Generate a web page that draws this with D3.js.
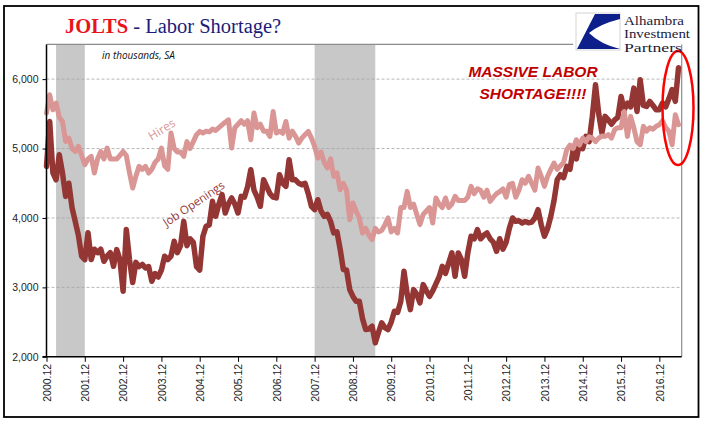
<!DOCTYPE html>
<html><head><meta charset="utf-8">
<script src="https://cdn.jsdelivr.net/npm/d3@7"></script>
<style>html,body{margin:0;padding:0;background:#fff;}svg{display:block;}</style>
</head><body>
<svg id="c" width="705" height="421"></svg>
<script>
// Month index 0 = 2000.12 ... 198 = 2017.06
const tickLabels = ["2000.12","2001.12","2002.12","2003.12","2004.12","2005.12","2006.12","2007.12","2008.12","2009.12","2010.12","2011.12","2012.12","2013.12","2014.12","2015.12","2016.12"];
const yTicks = [2000,3000,4000,5000,6000];
const recessions = [[3,12],[84,103]];
const jobOpenings = [
4742,5390,4650,4550,4911,4650,4311,4500,4150,3950,3750,3450,3400,
3788,3400,3550,3500,3550,3376,3450,3500,3304,3544,3400,2944,
3832,3400,3069,3360,3300,3330,3280,3300,3088,3200,3150,3250,
3448,3400,3450,3664,3500,3600,3951,3600,3700,3650,3300,3250,
3736,3880,3900,4240,4024,4200,4335,4072,4200,4288,4200,4072,
4311,4300,4450,4695,4400,4300,4168,4551,4450,4350,4300,4288,
4623,4500,4455,4839,4550,4550,4500,4480,4500,4350,4168,4119,
4263,4100,4024,4050,3950,3784,3800,3550,3256,3250,2968,2870,
2800,2800,2550,2393,2400,2441,2201,2350,2489,2420,2393,2500,
2657,2640,2800,3232,2900,2680,2968,2900,2777,3040,2950,2872,
2950,3050,3150,3304,3200,3350,3496,3160,3496,3400,3160,3500,
3736,3700,3832,3700,3750,3784,3700,3650,3520,3700,3550,3650,
3850,4000,3951,3960,3928,3950,3930,3940,4000,4119,3900,3736,
3850,4024,4250,4551,4623,4580,4743,4700,4983,4850,5079,5000,
5175,5100,5463,5918,5500,5223,5463,5414,5350,5414,5450,5750,
5558,5655,5600,5870,5534,5990,5620,5606,5678,5620,5558,5560,
5655,5600,5720,5850,5680,6163];
const hires = [
5511,5774,5558,5655,5450,5390,5102,5150,5000,4958,5030,4900,4767,
4850,4887,4647,4850,4958,4850,5007,4850,4850,4850,4900,4958,
4900,4650,4431,4600,4743,4700,4743,4647,4700,4800,4850,5007,
4750,4700,5223,5000,4950,4950,4887,5100,5000,5100,5200,5247,
5223,5250,5240,5280,5260,5300,5340,5380,5414,5007,5300,5350,
5400,5350,5400,5127,5511,5300,5350,5250,5250,5175,5534,5223,
5250,5220,5390,5150,5250,5180,5079,5150,5200,5247,5150,5030,
4863,4950,4800,4719,4850,4599,4650,4407,4500,4400,3976,4215,
4100,4000,3784,3850,3750,3688,3850,3800,3820,3900,4000,3800,
3850,3784,4150,4150,4383,4150,4200,4050,3904,4050,4100,4150,
3928,4288,4200,4150,4288,4150,4200,4311,4250,4250,4250,4300,
4455,4350,4420,4400,4300,4400,4239,4300,4350,4380,4420,4300,
4480,4500,4300,4400,4551,4500,4599,4500,4400,4719,4600,4455,
4600,4700,4791,4700,4750,4800,4983,5050,5000,5127,5050,5151,
5100,5170,5150,5100,5151,5180,5175,5200,5150,5271,5300,5300,
5534,5175,5463,5300,5100,5055,5319,5250,5300,5280,5320,5343,
5400,5300,5250,5055,5487,5343];

const svg = d3.select("#c");
const L = 46.5, R = 681.7, T = 44.4, B = 356.8;
const x = d3.scaleLinear().domain([0,199]).range([L,R]);
const y = d3.scaleLinear().domain([2000,6500]).range([B,T]);

// outer frame
svg.append("rect").attr("x",4).attr("y",6).attr("width",694.5).attr("height",411)
  .attr("fill","#fff").attr("stroke","#000").attr("stroke-width",1.8);

// recession shading
svg.selectAll(".rec").data(recessions).join("rect")
  .attr("x",d=>x(d[0])).attr("width",d=>x(d[1])-x(d[0]))
  .attr("y",T).attr("height",B-T).attr("fill","#c8c8c8");

// gridlines
svg.selectAll(".grid").data(yTicks.filter(v=>v>2000)).join("line")
  .attr("x1",L).attr("x2",R).attr("y1",d=>y(d)).attr("y2",d=>y(d))
  .attr("stroke","#a6a6a6").attr("stroke-width",0.8).attr("stroke-dasharray","3,2");

// plot border (gray top/right)
svg.append("line").attr("x1",L).attr("x2",573).attr("y1",T).attr("y2",T).attr("stroke","#8c8c8c").attr("stroke-width",1.2);
svg.append("line").attr("x1",R).attr("x2",R).attr("y1",T).attr("y2",B).attr("stroke","#8c8c8c").attr("stroke-width",1.2);

// lines
const line = d3.line().x((d,i)=>x(i)).y(d=>y(d)).curve(d3.curveLinear);
svg.append("path").datum(jobOpenings).attr("d",line).attr("fill","none")
  .attr("stroke","#943634").attr("stroke-width",5.5).attr("stroke-linejoin","round").attr("stroke-linecap","round");
svg.append("path").datum(hires).attr("d",line).attr("fill","none")
  .attr("stroke","#d99694").attr("stroke-width",5).attr("stroke-linejoin","round").attr("stroke-linecap","round");

// axes
const yAxis = d3.axisLeft(y).tickValues(yTicks).tickFormat(d3.format(",")).tickSize(4).tickPadding(4);
const gy = svg.append("g").attr("transform",`translate(${L},0)`).call(yAxis);
gy.select(".domain").attr("stroke","#000").attr("stroke-width",1.5).attr("d",`M-4,${y(2000)}H0V${T}`);
gy.selectAll(".tick line").attr("stroke","#000");
gy.selectAll("text").attr("font-family","Liberation Sans, Arial, sans-serif").attr("font-size",10.5).attr("fill","#222");

const xAxis = d3.axisBottom(x).tickValues(d3.range(0,193,12)).tickFormat((d,i)=>tickLabels[i]).tickSize(5).tickSizeOuter(0);
const gx = svg.append("g").attr("transform",`translate(0,${B})`).call(xAxis);
gx.select(".domain").attr("stroke","#000").attr("stroke-width",1.5).attr("d",`M${L},0H${R}`);
gx.selectAll(".tick line").attr("stroke","#000");
gx.selectAll("text").attr("font-family","Liberation Sans, Arial, sans-serif").attr("font-size",10.5).attr("fill","#222")
  .attr("transform","rotate(-90)").attr("text-anchor","end").attr("dy","0.35em").attr("y",0)
  .attr("x",-7).attr("dx",null);

// series labels
svg.append("text").attr("transform","translate(164,133) rotate(-32)").attr("text-anchor","middle")
  .attr("font-family","Open Sans, Liberation Sans, sans-serif").attr("font-size",12).attr("fill","#d99694").text("Hires");
svg.append("text").attr("transform","translate(196,207) rotate(-34)").attr("text-anchor","middle")
  .attr("font-family","Open Sans, Liberation Sans, sans-serif").attr("font-size",11.5).attr("fill","#943634").text("Job Openings");

// title
const t = svg.append("text").attr("x",65).attr("y",33).attr("font-family","Liberation Serif, Times New Roman, serif").attr("font-size",20.5);
t.append("tspan").attr("fill","#e8141b").attr("font-weight","bold").text("JOLTS");
t.append("tspan").attr("fill","#1c1c78").text(" - Labor Shortage?");
svg.append("text").attr("x",102).attr("y",59).attr("font-family","Open Sans, Liberation Sans, sans-serif")
  .attr("font-style","italic").attr("font-size",10).attr("fill","#111").text("in thousands, SA");

// annotation
const ann = svg.append("text").attr("font-family","Liberation Sans, Arial, sans-serif").attr("font-weight","bold")
  .attr("font-style","italic").attr("font-size",15.5).attr("fill","#c00000").attr("text-anchor","middle");
ann.append("tspan").attr("x",533).attr("y",77).text("MASSIVE LABOR");
ann.append("tspan").attr("x",533).attr("y",99).text("SHORTAGE!!!!");
svg.append("ellipse").attr("cx",678).attr("cy",108).attr("rx",15.5).attr("ry",57)
  .attr("fill","none").attr("stroke","#ff0000").attr("stroke-width",2.5);

// logo
const lg = svg.append("g");
lg.append("rect").attr("x",576).attr("y",13).attr("width",44).attr("height",37).attr("fill","#fff").attr("stroke","#c8c8c8").attr("stroke-width",0.8);
lg.append("path").attr("fill","#0c1f8a")
  .attr("d","M595,14 L620,14 L620,19 Q600,24 589,33 Q600,44 620,49 L577,49 Z");
const lfont = "Liberation Serif, Times New Roman, serif";
[["Alhambra",24.5,60],["Investment",38,66],["Partners",51.5,58]].forEach(([s,yy,w])=>{
  lg.append("text").attr("x",624).attr("y",yy).attr("font-family",lfont).attr("font-size",11.6)
    .attr("fill","#1a1a3a").attr("textLength",w).attr("lengthAdjust","spacingAndGlyphs").text(s);
});
</script>
</body></html>
